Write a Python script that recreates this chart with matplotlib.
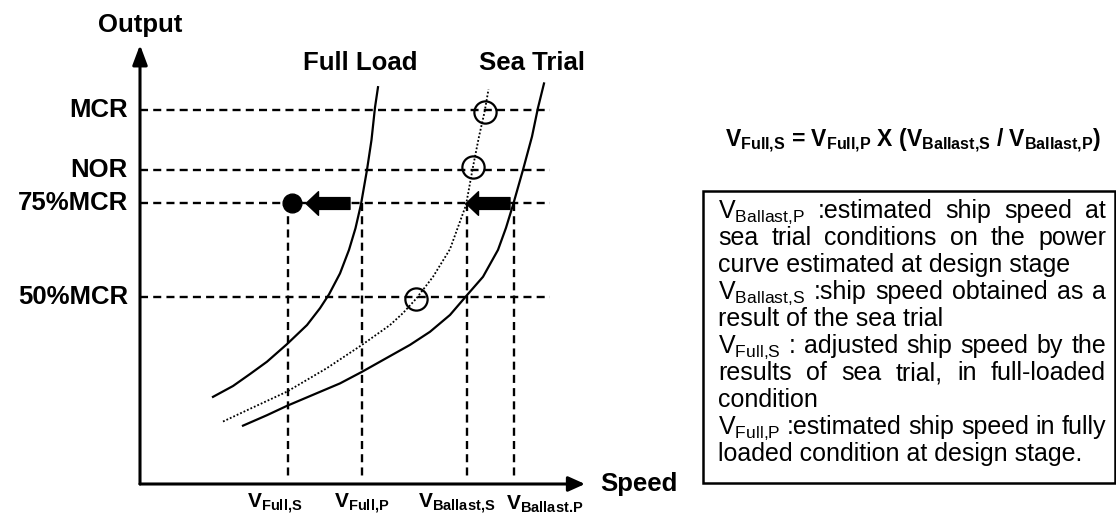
import matplotlib
matplotlib.use('agg')
import matplotlib.pyplot as plt
from matplotlib.patches import Rectangle

plt.rcParams['font.family'] = ['Liberation Sans', 'DejaVu Sans']
plt.rcParams['mathtext.fontset'] = 'custom'
plt.rcParams['mathtext.rm'] = 'Liberation Sans'
plt.rcParams['mathtext.bf'] = 'Liberation Sans:bold'
plt.rcParams['mathtext.it'] = 'Liberation Sans:italic'
plt.rcParams['mathtext.sf'] = 'Liberation Sans'

# ---- data (speed in arbitrary units, output in % MCR) ----
level_names = ['MCR', 'NOR', '75%MCR', '50%MCR']
level_values = [100, 84, 75, 50]

speed_names = [r'V$_{\mathbf{Full{,}S}}$', r'V$_{\mathbf{Full{,}P}}$',
               r'V$_{\mathbf{Ballast{,}S}}$', r'V$_{\mathbf{Ballast.\!P}}$']
speed_values = [14.8, 22.2, 32.7, 37.4]

full_speed = [7.3, 9.3, 11.0, 12.7, 14.7, 16.7, 18.0, 18.9, 20.0, 20.9, 21.55, 22.1, 22.7, 23.15, 23.5, 23.8]
full_output = [23.3, 26.2, 29.4, 32.7, 37.4, 42.5, 47.0, 50.7, 56.3, 62.6, 68.4, 74.8, 84.0, 92.0, 100.7, 106.1]

ballast_speed = [10.3, 12.7, 14.7, 17.7, 20.0, 22.2, 25.0, 27.0, 29.0, 31.0, 32.7, 34.3, 35.8, 36.6, 37.3, 38.3, 39.2, 39.8, 40.4]
ballast_output = [15.6, 18.4, 20.9, 24.3, 26.9, 30.0, 34.2, 37.2, 40.7, 45.2, 50.5, 55.4, 62.6, 68.5, 74.6, 84.0, 92.9, 100.6, 107.1]

trial_speed = [8.3, 11.0, 14.7, 18.7, 22.2, 25.0, 26.3, 27.6, 29.3, 31.0, 32.6, 33.3, 33.9, 34.45, 34.85]
trial_output = [16.7, 20.1, 24.7, 31.0, 37.2, 42.5, 45.7, 49.5, 55.4, 62.8, 74.6, 84.8, 92.9, 99.4, 105.5]

trial_pts_speed = [34.5, 33.25, 27.6]
trial_pts_output = [99.5, 84.8, 49.5]

full_s_dot = (15.2, 75)
arrow_full = ((21.0, 75), (16.6, 75))
arrow_ballast = ((37.0, 75), (32.6, 75))

# ---- figure ----
W, H = 1116, 517
fig = plt.figure(figsize=(W / 100, H / 100), dpi=100)

# diagram axes: origin at pixel (140, 484), 10 px per speed unit, 3.74 px per %
x0, y0, sx, sy = 140, 484, 10.0, 3.74
xmin, xmax, ymin, ymax = -4, 46, -3, 124
left = x0 + xmin * sx
right = x0 + xmax * sx
bottom = y0 - ymin * sy
top = y0 - ymax * sy
ax = fig.add_axes([left / W, (H - bottom) / H, (right - left) / W, (bottom - top) / H])
ax.set_xlim(xmin, xmax)
ax.set_ylim(ymin, ymax)
ax.axis('off')

dash = dict(color='k', lw=1.7, dashes=(3.4, 2.2), clip_on=False)
for v in level_values:
    ax.plot([0, 41], [v, v], **dash)
for v in speed_values:
    ax.plot([v, v], [75, 1], **dash)

ax.plot(full_speed, full_output, color='k', lw=1.6, clip_on=False)
ax.plot(ballast_speed, ballast_output, color='k', lw=1.6, clip_on=False)
ax.plot(trial_speed, trial_output, color='k', lw=1.3, ls=(0, (1, 1.1)), clip_on=False)
ax.plot(trial_pts_speed, trial_pts_output, 'o', mfc='none', mec='k', ms=16, mew=1.6, clip_on=False)
ax.plot(*full_s_dot, 'o', color='k', ms=13.5, clip_on=False)

for tail, tip in [arrow_full, arrow_ballast]:
    ax.annotate('', xy=tip, xytext=tail,
                arrowprops=dict(arrowstyle='simple,head_length=0.9,head_width=1.7,tail_width=0.85',
                                mutation_scale=10, color='k', shrinkA=0, shrinkB=0))

# axes arrows
ax.annotate('', xy=(0, 117.4), xytext=(0, 0),
            arrowprops=dict(arrowstyle='-|>,head_length=1.2,head_width=0.45', mutation_scale=10,
                            lw=2.2, color='k', shrinkA=0, shrinkB=0))
ax.annotate('', xy=(44.5, 0), xytext=(0, 0),
            arrowprops=dict(arrowstyle='-|>,head_length=1.0,head_width=0.45', mutation_scale=10,
                            lw=2.2, color='k', shrinkA=0, shrinkB=0))

big = dict(fontsize=18.5, fontweight='bold', va='center')
ax.text(0, 122.7, 'Output', ha='center', **big)
ax.text(46.0, 0, 'Speed', ha='left', **big)
ax.text(22.0, 112.6, 'Full Load', ha='center', **big)
ax.text(39.2, 112.6, 'Sea Trial', ha='center', **big)
for name, v in zip(level_names, level_values):
    ax.text(-1.2, v, name, ha='right', **big)

label_shift = [-1.3, 0, -1.0, 3.1]
for name, v, d in zip(speed_names, speed_values, label_shift):
    ax.text(v + d, -5.4, name, ha='center', va='center', fontsize=15, fontweight='bold')

# ---- right-hand text (pixel coordinates) ----
tx = fig.add_axes([0, 0, 1, 1])
tx.set_xlim(0, W)
tx.set_ylim(H, 0)
tx.axis('off')
tx.patch.set_alpha(0)

tx.text(913, 147,
        r'V$_{\mathbf{Full{,}S}}$ = V$_{\mathbf{Full{,}P}}$ X (V$_{\mathbf{Ballast{,}S}}$ / V$_{\mathbf{Ballast{,}P}}$)',
        ha='center', va='baseline', fontsize=16.5, fontweight='bold')

tx.add_patch(Rectangle((703, 191), 412, 292, fill=False, lw=1.8, ec='k'))

box_lines = [
    (r'V$_{\mathrm{Ballast{,}P}}$ :estimated ship speed at', True),
    ('sea trial conditions on the power', True),
    ('curve estimated at design stage', False),
    (r'V$_{\mathrm{Ballast{,}S}}$ :ship speed obtained as a', True),
    ('result of the sea trial', False),
    (r'V$_{\mathrm{Full{,}S}}$ : adjusted ship speed by the', True),
    ('results of sea trial, in full-loaded', True),
    ('condition', False),
    (r'V$_{\mathrm{Full{,}P}}$ :estimated ship speed in fully', True),
    ('loaded condition at design stage.', False),
]

renderer = fig.canvas.get_renderer()
tx0, tx1 = 718, 1106
for i, (line, justify) in enumerate(box_lines):
    yb = 218 + 27 * i
    if not justify:
        tx.text(tx0, yb, line, ha='left', va='baseline', fontsize=18)
        continue
    words = line.split(' ')
    arts = [tx.text(tx0, yb, w, ha='left', va='baseline', fontsize=18) for w in words]
    widths = [a.get_window_extent(renderer).width for a in arts]
    gap = (tx1 - tx0 - sum(widths)) / (len(words) - 1)
    x = tx0
    for a, w in zip(arts, widths):
        a.set_x(x)
        x += w + gap

fig.savefig('out.png', dpi=100)
